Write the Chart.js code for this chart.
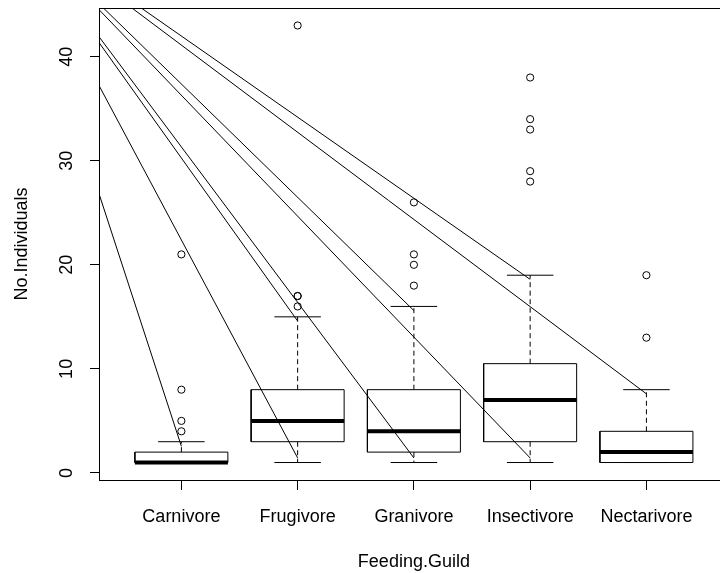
<!DOCTYPE html>
<html>
<head>
<meta charset="utf-8">
<script src="https://cdn.jsdelivr.net/npm/chart.js@4.4.1/dist/chart.umd.min.js"></script>
<style>
  html, body { margin: 0; padding: 0; background: #fff; }
  #wrap { width: 720px; height: 573px; }
</style>
</head>
<body>
<div id="wrap"><canvas id="guildBox" width="720" height="573"></canvas></div>
<script>
const categories = ['Carnivore', 'Frugivore', 'Granivore', 'Insectivore', 'Nectarivore'];
const whiskerLow = [1, 1, 1, 1, 1];
const quart1 = [1, 3, 2, 3, 1];
const medians = [1, 5, 4, 7, 2];
const quart3 = [2, 8, 8, 10.5, 4];
const whiskerHigh = [3, 15, 16, 19, 8];
const outliers = [[21, 8, 5, 4], [43, 17, 17, 16], [26, 21, 20, 18], [38, 34, 33, 29, 28], [19, 13]];

// the straight lines all come from one point above and left of the plot
const rayStart = {x: -0.49, y: 53.6};
const rayEndX = [1, 2, 2, 3, 3, 4, 4, 5];
const rayEndY = [2.56, 1.44, 14.6, 1.44, 15.6, 1.44, 18.6, 7.6];

const yTicks = [0, 10, 20, 30, 40];

const boxHalf = 0.4;
const capHalf = 0.2;
const fontFamily = '"Liberation Sans", Arial, Helvetica, sans-serif';

const gap = x => ({x: x, y: null});
const boxPts = [], medPts = [], whiskPts = [], capPts = [], outPts = [], rayPts = [];

categories.forEach((c, k) => {
    const i = k + 1;
    boxPts.push({x: i - boxHalf, y: quart1[k]}, {x: i + boxHalf, y: quart1[k]},
        {x: i + boxHalf, y: quart3[k]}, {x: i - boxHalf, y: quart3[k]},
        {x: i - boxHalf, y: quart1[k]}, gap(i));
    medPts.push({x: i - boxHalf, y: medians[k]}, {x: i + boxHalf, y: medians[k]}, gap(i));
    whiskPts.push({x: i, y: quart3[k]}, {x: i, y: whiskerHigh[k]}, gap(i),
        {x: i, y: quart1[k]}, {x: i, y: whiskerLow[k]}, gap(i));
    capPts.push({x: i - capHalf, y: whiskerHigh[k]}, {x: i + capHalf, y: whiskerHigh[k]}, gap(i),
        {x: i - capHalf, y: whiskerLow[k]}, {x: i + capHalf, y: whiskerLow[k]}, gap(i));
    outliers[k].forEach(v => outPts.push({x: i, y: v}));
});

rayEndX.forEach((x, k) => {
    rayPts.push({x: rayStart.x, y: rayStart.y}, {x: x, y: rayEndY[k]}, gap(x));
});

const segLine = (data, width, dash) => ({
    data: data,
    showLine: true,
    borderColor: '#000',
    borderWidth: width,
    borderDash: dash || [],
    pointRadius: 0,
    spanGaps: false,
    tension: 0
});

// R style frame and rotated y labels / axis titles
const rFrame = {
    id: 'rFrame',
    afterDraw(chart) {
        const ctx = chart.ctx, a = chart.chartArea;
        const xs = chart.scales.x, ys = chart.scales.y;
        ctx.save();
        ctx.strokeStyle = '#000';
        ctx.lineWidth = 1;
        ctx.strokeRect(a.left - 0.5, a.top + 0.5, a.right - a.left + 20, a.bottom - a.top);
        ctx.fillStyle = '#000';
        ctx.font = '18px ' + fontFamily;
        ctx.textAlign = 'center';
        ctx.textBaseline = 'alphabetic';
        yTicks.forEach(v => {
            ctx.save();
            ctx.translate(72, ys.getPixelForValue(v));
            ctx.rotate(-Math.PI / 2);
            ctx.fillText(String(v), 0, 0);
            ctx.restore();
        });
        ctx.save();
        ctx.translate(27, (a.top + a.bottom) / 2);
        ctx.rotate(-Math.PI / 2);
        ctx.fillText('No.Individuals', 0, 0);
        ctx.restore();
        ctx.fillText('Feeding.Guild', xs.getPixelForValue(3), 567);
        ctx.restore();
    }
};

new Chart(document.getElementById('guildBox'), {
    type: 'scatter',
    data: {
        datasets: [
            segLine(rayPts, 1),
            segLine(boxPts, 1),
            segLine(whiskPts, 1, [5, 3.5]),
            segLine(capPts, 1),
            segLine(medPts, 4),
            {
                data: outPts,
                pointStyle: 'circle',
                pointRadius: 3.6,
                pointBorderWidth: 1,
                pointBorderColor: '#000',
                pointBackgroundColor: 'rgba(0,0,0,0)'
            }
        ]
    },
    options: {
        responsive: false,
        animation: false,
        events: [],
        layout: {padding: {top: 8, left: 0, right: 0, bottom: 0}},
        plugins: {legend: {display: false}, tooltip: {enabled: false}},
        scales: {
            x: {
                type: 'linear',
                min: 0.3,
                max: 5.59,
                afterBuildTicks: s => { s.ticks = categories.map((c, k) => ({value: k + 1})); },
                afterFit: s => { s.height = 93; },
                grid: {drawOnChartArea: false, drawTicks: true, tickLength: 10, color: '#000'},
                border: {display: false},
                ticks: {
                    callback: (v, idx) => categories[idx],
                    padding: 16,
                    autoSkip: false,
                    maxRotation: 0,
                    color: '#000',
                    font: {family: fontFamily, size: 18}
                }
            },
            y: {
                type: 'linear',
                min: -0.68,
                max: 44.68,
                afterBuildTicks: s => { s.ticks = yTicks.map(v => ({value: v})); },
                afterFit: s => { s.width = 100; },
                grid: {drawOnChartArea: false, drawTicks: true, tickLength: 10, color: '#000'},
                border: {display: false},
                ticks: {display: false}
            }
        }
    },
    plugins: [rFrame]
});
</script>
</body>
</html>
